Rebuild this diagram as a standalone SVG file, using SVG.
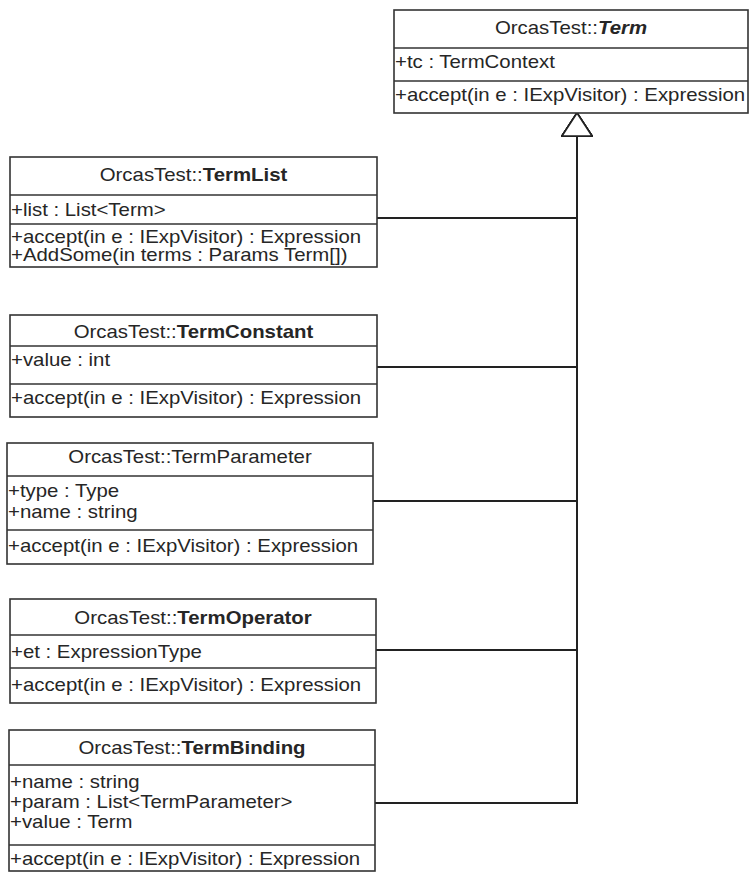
<svg xmlns="http://www.w3.org/2000/svg" width="750" height="872" viewBox="0 0 750 872">
<style>
.box{fill:#fff;stroke:#333;stroke-width:1.6}
.div{stroke:#333;stroke-width:1.6}
.t{font-family:"Liberation Sans",Arial,sans-serif;font-size:17.5px;fill:#262626}
.h{text-anchor:middle}
.b{font-weight:bold}
.bi{font-weight:bold;font-style:italic}
.conn{fill:none;stroke:#222;stroke-width:2}
</style>
<defs>
<marker id="gen" markerUnits="userSpaceOnUse" viewBox="0 0 26 32" markerWidth="26" markerHeight="32" refX="24" refY="16" orient="auto">
<polygon points="1,1 24,16 1,31" fill="#fff" stroke="#222" stroke-width="1.6"/>
</marker>
</defs>
<rect width="750" height="872" fill="#fff"/>

<g id="connectors">
<path class="conn" d="M377,218 H577 V113" marker-end="url(#gen)"/>
<path class="conn" d="M377,367 H577 V113" marker-end="url(#gen)"/>
<path class="conn" d="M373,501 H577 V113" marker-end="url(#gen)"/>
<path class="conn" d="M376,650 H577 V113" marker-end="url(#gen)"/>
<path class="conn" d="M375,803 H577 V113" marker-end="url(#gen)"/>
</g>

<g id="Term">
<rect class="box" x="394" y="10" width="354" height="103"/>
<line class="div" x1="394" y1="48" x2="748" y2="48"/>
<line class="div" x1="394" y1="81" x2="748" y2="81"/>
<text class="t h" transform="translate(571,34) scale(1.165,1)">OrcasTest::<tspan class="bi">Term</tspan></text>
<text class="t" transform="translate(395,68) scale(1.165,1)">+tc : TermContext</text>
<text class="t" transform="translate(395,101) scale(1.165,1)">+accept(in e : IExpVisitor) : Expression</text>
</g>

<g id="TermList">
<rect class="box" x="10" y="157" width="367" height="110"/>
<line class="div" x1="10" y1="195" x2="377" y2="195"/>
<line class="div" x1="10" y1="224" x2="377" y2="224"/>
<text class="t h" transform="translate(193.5,181) scale(1.165,1)">OrcasTest::<tspan class="b">TermList</tspan></text>
<text class="t" transform="translate(11,216) scale(1.165,1)">+list : List&lt;Term&gt;</text>
<text class="t" transform="translate(11,243) scale(1.165,1)">+accept(in e : IExpVisitor) : Expression</text>
<text class="t" transform="translate(11,261) scale(1.165,1)">+AddSome(in terms : Params Term[])</text>
</g>

<g id="TermConstant">
<rect class="box" x="10" y="315" width="367" height="102"/>
<line class="div" x1="10" y1="346" x2="377" y2="346"/>
<line class="div" x1="10" y1="384" x2="377" y2="384"/>
<text class="t h" transform="translate(193.5,338) scale(1.165,1)">OrcasTest::<tspan class="b">TermConstant</tspan></text>
<text class="t" transform="translate(11,366) scale(1.165,1)">+value : int</text>
<text class="t" transform="translate(11,404) scale(1.165,1)">+accept(in e : IExpVisitor) : Expression</text>
</g>

<g id="TermParameter">
<rect class="box" x="7" y="443" width="366" height="121"/>
<line class="div" x1="7" y1="476" x2="373" y2="476"/>
<line class="div" x1="7" y1="530" x2="373" y2="530"/>
<text class="t h" transform="translate(190,463) scale(1.165,1)">OrcasTest::TermParameter</text>
<text class="t" transform="translate(8,497) scale(1.165,1)">+type : Type</text>
<text class="t" transform="translate(8,518) scale(1.165,1)">+name : string</text>
<text class="t" transform="translate(8,552) scale(1.165,1)">+accept(in e : IExpVisitor) : Expression</text>
</g>

<g id="TermOperator">
<rect class="box" x="10" y="599" width="366" height="104"/>
<line class="div" x1="10" y1="635" x2="376" y2="635"/>
<line class="div" x1="10" y1="668" x2="376" y2="668"/>
<text class="t h" transform="translate(193,624) scale(1.165,1)">OrcasTest::<tspan class="b">TermOperator</tspan></text>
<text class="t" transform="translate(11,658) scale(1.165,1)">+et : ExpressionType</text>
<text class="t" transform="translate(11,691) scale(1.165,1)">+accept(in e : IExpVisitor) : Expression</text>
</g>

<g id="TermBinding">
<rect class="box" x="9" y="730" width="366" height="141"/>
<line class="div" x1="9" y1="765" x2="375" y2="765"/>
<line class="div" x1="9" y1="845" x2="375" y2="845"/>
<text class="t h" transform="translate(192,754) scale(1.165,1)">OrcasTest::<tspan class="b">TermBinding</tspan></text>
<text class="t" transform="translate(10,788) scale(1.165,1)">+name : string</text>
<text class="t" transform="translate(10,808) scale(1.165,1)">+param : List&lt;TermParameter&gt;</text>
<text class="t" transform="translate(10,828) scale(1.165,1)">+value : Term</text>
<text class="t" transform="translate(10,865) scale(1.165,1)">+accept(in e : IExpVisitor) : Expression</text>
</g>
</svg>
